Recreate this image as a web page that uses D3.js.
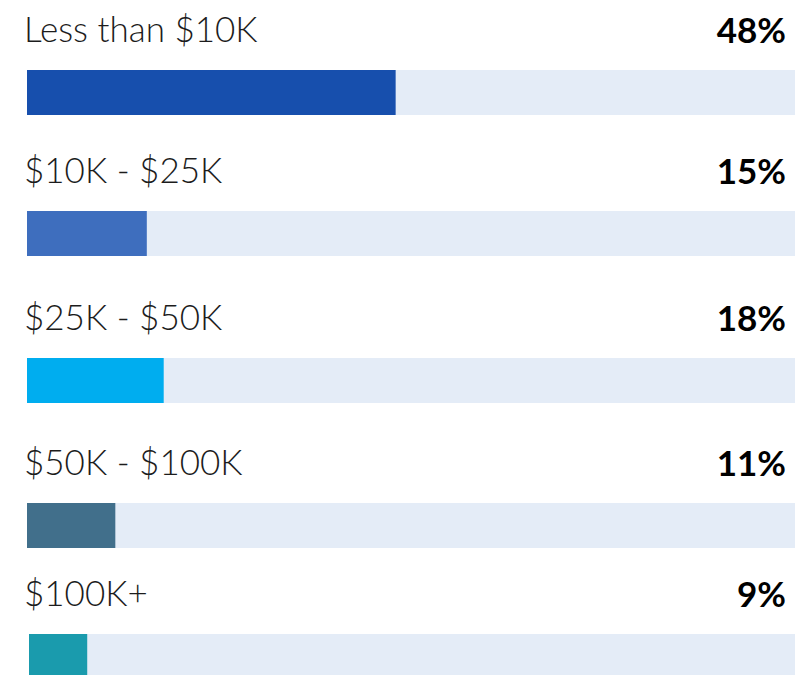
<!DOCTYPE html>
<html>
<head>
<meta charset="utf-8">
<script src="https://cdn.jsdelivr.net/npm/d3@7"></script>
<style>
  html, body { margin: 0; padding: 0; background: #fff; }
  svg { display: block; }
  .cat { font-family: "Lato Light", Lato, sans-serif; font-weight: 300; font-size: 35px; fill: #1c1c1c; }
  .pct { font-family: Lato, sans-serif; font-weight: 700; font-size: 35px; fill: #000; }
</style>
</head>
<body>
<svg id="chart" width="802" height="675"></svg>
<script>
// income brackets
const categories = ['Less than $10K', '$10K - $25K', '$25K - $50K', '$50K - $100K', '$100K+'];
// bar length (percent of track)
const shares = [48, 15.6, 17.8, 11.5, 7.6];
// labels shown at the right
const pctLabels = ['48%', '15%', '18%', '11%', '9%'];
const colors = ['#174fad', '#3e6ebe', '#00adef', '#416f8b', '#1a9bad'];

// layout: top of each bar and small left shift of the last row
const rowTop = [70, 211, 358, 503, 634];
const rowLeft = [27, 27, 27, 27, 29];
const barH = 45;
const trackRight = 795;

const svg = d3.select('#chart');

const rows = svg.selectAll('g.row')
  .data(categories.map((c, i) => ({ c, v: shares[i], label: pctLabels[i], color: colors[i], i })))
  .join('g')
  .attr('class', 'row')
  .attr('transform', d => `translate(0,${rowTop[d.i]})`);

rows.each(function (d) {
  const g = d3.select(this);
  const x = d3.scaleLinear().domain([0, 100]).range([rowLeft[d.i], trackRight]);

  // background track
  g.append('rect')
    .attr('x', x(0))
    .attr('y', 0)
    .attr('width', x(100) - x(0))
    .attr('height', barH)
    .attr('fill', '#e4ecf7');

  // value bar
  g.append('rect')
    .attr('x', x(0))
    .attr('y', 0)
    .attr('width', x(d.v) - x(0))
    .attr('height', barH)
    .attr('fill', d.color);

  g.append('text')
    .attr('class', 'cat')
    .attr('x', 24)
    .attr('y', -28)
    .text(d.c);

  g.append('text')
    .attr('class', 'pct')
    .attr('x', 786)
    .attr('y', -27)
    .attr('text-anchor', 'end')
    .text(d.label);
});
</script>
</body>
</html>
